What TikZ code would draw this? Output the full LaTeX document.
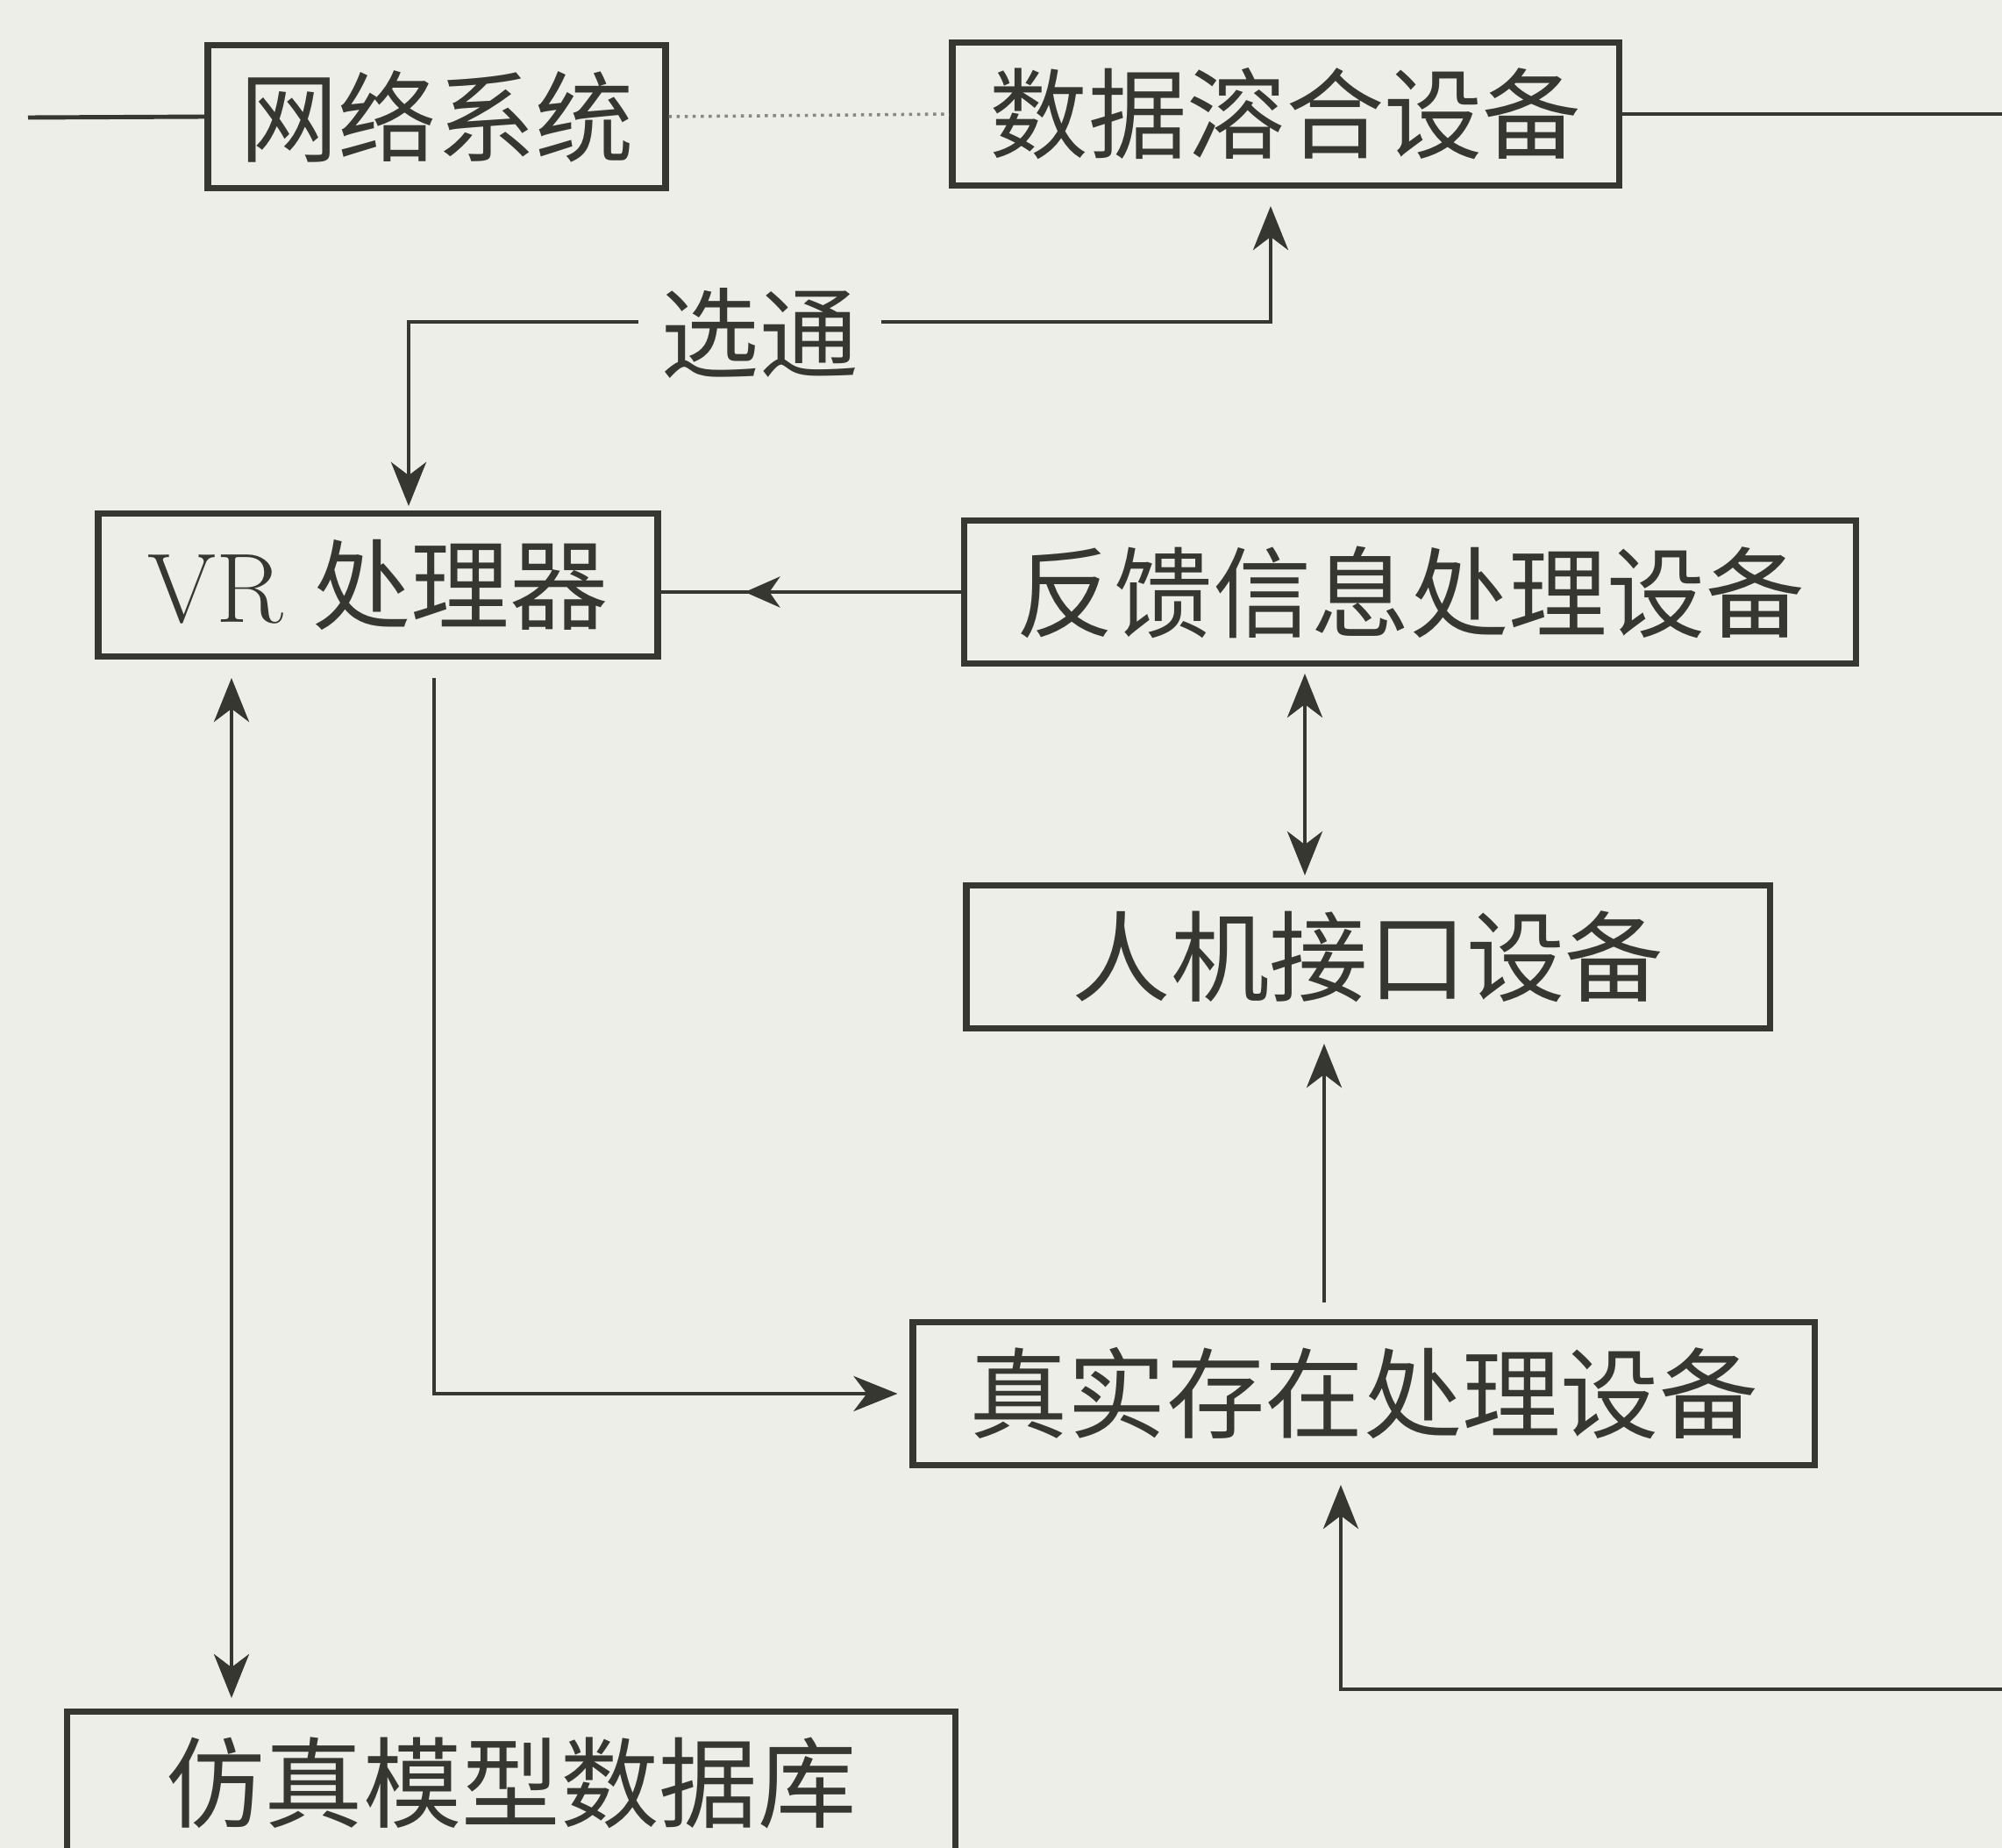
\documentclass[tikz,border=0pt]{standalone}
\usepackage{fontspec}
\newfontfamily\cjk{Noto Sans CJK SC}
\usetikzlibrary{arrows.meta,decorations.markings}
\definecolor{paper}{RGB}{238,238,232}
\definecolor{ink}{RGB}{55,55,50}

\begin{document}
\begin{tikzpicture}[
    box/.style={draw=ink, line width=2pt, rectangle, inner sep=0pt,
      minimum height=1.63cm, text=ink, font=\fontsize{32}{36}\selectfont\cjk},
    wire/.style={draw=ink, line width=1.4pt},
    conn/.style={wire, -{Stealth[length=5mm,width=4mm,inset=1.5mm]}},
    biarrow/.style={wire, {Stealth[length=5mm,width=4mm,inset=1.5mm]}-{Stealth[length=5mm,width=4mm,inset=1.5mm]}},
    dotline/.style={draw=ink!60, line width=1pt, dash pattern=on 1pt off 1.6pt},
    midarrow/.style={decoration={markings,
        mark=at position 0.72 with {\arrow{Stealth[length=4mm,width=3.5mm,inset=1.2mm]}}},
      postaction={decorate}}
  ]
  \clip (0,0) rectangle (22.83,-21.07);
  \fill[paper] (0,0) rectangle (22.83,-21.07);

  % boxes
  \node[box, minimum width=5.22cm] (net) at (4.98,-1.33) {网络系统};
  \node[box, minimum width=7.60cm] (fuse) at (14.66,-1.30) {数据溶合设备};
  \node[box, minimum width=6.38cm] (vr) at (4.31,-6.67) {{\rmfamily VR}\hspace{0.3em}处理器};
  \node[box, minimum width=10.17cm] (fb) at (16.08,-6.75) {反馈信息处理设备};
  \node[box, minimum width=9.16cm] (hmi) at (15.60,-10.91) {人机接口设备};
  \node[box, minimum width=10.28cm] (real) at (15.55,-15.89) {真实存在处理设备};
  \node[box, minimum width=10.13cm] (sim) at (5.83,-20.33) {仿真模型数据库};

  % free ends
  \coordinate (lend) at (0.32,-1.34);
  \coordinate (rend) at (22.83,-1.30);
  \coordinate (bend) at (22.83,-19.26);
  \coordinate (gate) at (8.66,-3.67);

  % connectors
  \draw[wire] (lend) -- (net.west);
  \draw[dotline] (net.east) -- (fuse.west);
  \draw[wire] (fuse.east) -- (rend);
  \draw[biarrow, shorten <=0.05cm, shorten >=0.2cm]
    ([xshift=3.5mm]vr.north) |- (gate) -| ([xshift=-1.7mm]fuse.south);
  \node[fill=paper, inner sep=0pt, minimum width=2.77cm, text=ink,
    font=\fontsize{32}{36}\selectfont\cjk] (gatelbl) at (8.66,-3.80) {选通};
  \draw[wire, midarrow] (fb.west) -- (fb.west -| vr.east);
  \draw[biarrow, shorten <=0.08cm, shorten >=0.08cm]
    ([xshift=-12mm]fb.south) -- ([xshift=-12mm]fb.south |- hmi.north);
  \draw[conn, shorten <=0.19cm, shorten >=0.14cm]
    ([xshift=-4.5mm]real.north) -- ([xshift=-4.5mm]real.north |- hmi.south);
  \draw[conn, shorten <=0.21cm, shorten >=0.14cm]
    ([xshift=6.4mm]vr.south) |- (real.west);
  \draw[biarrow, shorten <=0.21cm, shorten >=0.12cm]
    ([xshift=-16.7mm]vr.south) -- ([xshift=-16.7mm]vr.south |- sim.north);
  \draw[conn, shorten >=0.19cm] (bend) -| ([xshift=-2.6mm]real.south);
\end{tikzpicture}
\end{document}
